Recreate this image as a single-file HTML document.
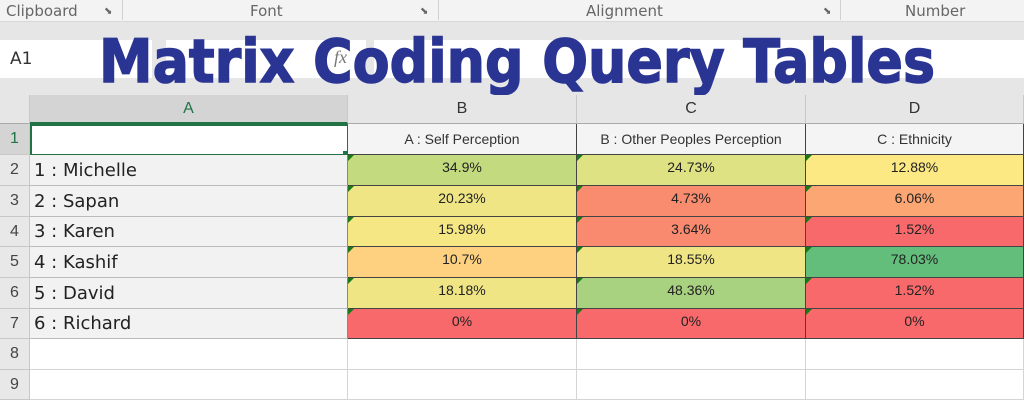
<!DOCTYPE html>
<html><head><meta charset="utf-8"><style>
*{margin:0;padding:0;box-sizing:border-box}
body{width:1024px;height:400px;overflow:hidden;background:#e6e6e6;font-family:"Liberation Sans",sans-serif;position:relative}
.a{position:absolute}
.rib{top:0;height:22px;background:#f3f3f3;width:1024px;border-bottom:1px solid #d8d8d8}
.rl{top:2px;font-size:15px;color:#666;font-family:"DejaVu Sans",sans-serif}
.cell{position:absolute;border-right:1px solid #444;border-bottom:1px solid #444;display:flex;justify-content:center;padding-top:4px;font-size:14px;color:#222}
.cell:before{content:"";position:absolute;left:0;top:0;border-top:6px solid #1a7a1a;border-right:6px solid transparent}
.rh{position:absolute;left:0;width:30px;background:#e8e8e8;border-bottom:1px solid #c8c8c8;border-right:1px solid #c8c8c8;font-size:16px;color:#444;display:flex;align-items:center;justify-content:center}
.nm{position:absolute;left:30px;width:318px;background:#f2f2f2;border-bottom:1px solid #bbb;border-right:1px solid #888;font-size:18px;color:#222;padding-left:4px;display:flex;align-items:center;font-family:"DejaVu Sans",sans-serif}
.hd{position:absolute;top:95px;height:29px;background:#e6e6e6;border-right:1px solid #c8c8c8;border-bottom:1px solid #aaa;font-size:16px;color:#333;display:flex;align-items:center;justify-content:center}
.h1{position:absolute;top:124px;height:31px;background:#f4f4f4;border-right:1px solid #444;border-bottom:1px solid #444;font-size:14px;color:#333;display:flex;align-items:center;justify-content:center}
.em{position:absolute;background:#fff;border-right:1px solid #d4d4d4;border-bottom:1px solid #d4d4d4}
</style></head><body>
<div class="a rib"></div>
<div class="a rl" style="left:6px">Clipboard</div>
<div class="a rl" style="left:104px;font-size:10px;top:6px">⬊</div>
<div class="a" style="left:122px;top:0;width:1px;height:20px;background:#d0d0d0"></div>
<div class="a rl" style="left:250px">Font</div>
<div class="a rl" style="left:420px;font-size:10px;top:6px">⬊</div>
<div class="a" style="left:438px;top:0;width:1px;height:20px;background:#d0d0d0"></div>
<div class="a rl" style="left:586px">Alignment</div>
<div class="a rl" style="left:823px;font-size:10px;top:6px">⬊</div>
<div class="a" style="left:840px;top:0;width:1px;height:20px;background:#d0d0d0"></div>
<div class="a rl" style="left:905px">Number</div>
<div class="a" style="left:0;top:40px;width:152px;height:38px;background:#fff"></div>
<div class="a" style="left:10px;top:49px;font-size:17px;color:#333;font-family:'DejaVu Sans',sans-serif">A1</div>
<div class="a" style="left:166px;top:40px;width:200px;height:38px;background:#fff"></div>
<div class="a" style="left:374px;top:40px;width:650px;height:38px;background:#fff"></div>
<div class="a" style="left:334px;top:47px;font-size:18px;color:#777;font-style:italic;font-family:'Liberation Serif',serif">fx</div>
<svg class="a" style="left:0;top:0" width="1024" height="100"><text x="99" y="82" textLength="836" lengthAdjust="spacingAndGlyphs" font-family="DejaVu Sans" font-weight="bold" font-size="60" fill="#2a3593" stroke="#2a3593" stroke-width="1.5">Matrix Coding Query Tables</text></svg>
<div class="a" style="left:0;top:95px;width:30px;height:29px;background:#e6e6e6;border-right:1px solid #c8c8c8;border-bottom:1px solid #aaa"></div>
<div class="hd" style="left:30px;width:318px;background:#d4d4d4;color:#217346;border-bottom:2px solid #217346">A</div>
<div class="hd" style="left:348px;width:229px">B</div>
<div class="hd" style="left:577px;width:229px">C</div>
<div class="hd" style="left:806px;width:218px">D</div>
<div class="rh" style="top:124px;height:31px;color:#217346;background:#d4d4d4">1</div>
<div class="a" style="left:30px;top:124px;width:319px;height:32px;background:#fff;border:2px solid #217346"></div>
<div class="a" style="left:343px;top:151px;width:7px;height:7px;background:#217346"></div>
<div class="h1" style="left:348px;width:229px">A : Self Perception</div>
<div class="h1" style="left:577px;width:229px">B : Other Peoples Perception</div>
<div class="h1" style="left:806px;width:218px">C : Ethnicity</div>

<div class="rh" style="top:155px;height:31px">2</div><div class="nm" style="top:155px;height:31px">1 : Michelle</div>
<div class="rh" style="top:186px;height:31px">3</div><div class="nm" style="top:186px;height:31px">2 : Sapan</div>
<div class="rh" style="top:217px;height:30px">4</div><div class="nm" style="top:217px;height:30px">3 : Karen</div>
<div class="rh" style="top:247px;height:31px">5</div><div class="nm" style="top:247px;height:31px">4 : Kashif</div>
<div class="rh" style="top:278px;height:31px">6</div><div class="nm" style="top:278px;height:31px">5 : David</div>
<div class="rh" style="top:309px;height:30px">7</div><div class="nm" style="top:309px;height:30px">6 : Richard</div>
<div class="rh" style="top:339px;height:31px">8</div>
<div class="rh" style="top:370px;height:30px">9</div>

<div class="cell" style="left:348px;top:155px;width:229px;height:31px;background:#c4da7e">34.9%</div>
<div class="cell" style="left:577px;top:155px;width:229px;height:31px;background:#dfe283">24.73%</div>
<div class="cell" style="left:806px;top:155px;width:218px;height:31px;background:#fde983">12.88%</div>
<div class="cell" style="left:348px;top:186px;width:229px;height:31px;background:#efe584">20.23%</div>
<div class="cell" style="left:577px;top:186px;width:229px;height:31px;background:#f98c6e">4.73%</div>
<div class="cell" style="left:806px;top:186px;width:218px;height:31px;background:#fba673">6.06%</div>
<div class="cell" style="left:348px;top:217px;width:229px;height:30px;background:#f5e784">15.98%</div>
<div class="cell" style="left:577px;top:217px;width:229px;height:30px;background:#f98a6f">3.64%</div>
<div class="cell" style="left:806px;top:217px;width:218px;height:30px;background:#f8696b">1.52%</div>
<div class="cell" style="left:348px;top:247px;width:229px;height:31px;background:#fdd17f">10.7%</div>
<div class="cell" style="left:577px;top:247px;width:229px;height:31px;background:#f0e584">18.55%</div>
<div class="cell" style="left:806px;top:247px;width:218px;height:31px;background:#63be7b">78.03%</div>
<div class="cell" style="left:348px;top:278px;width:229px;height:31px;background:#efe584">18.18%</div>
<div class="cell" style="left:577px;top:278px;width:229px;height:31px;background:#a8d27f">48.36%</div>
<div class="cell" style="left:806px;top:278px;width:218px;height:31px;background:#f8696b">1.52%</div>
<div class="cell" style="left:348px;top:309px;width:229px;height:30px;background:#f8696b">0%</div>
<div class="cell" style="left:577px;top:309px;width:229px;height:30px;background:#f8696b">0%</div>
<div class="cell" style="left:806px;top:309px;width:218px;height:30px;background:#f8696b">0%</div>

<div class="em" style="left:30px;top:339px;width:318px;height:31px"></div>
<div class="em" style="left:348px;top:339px;width:229px;height:31px"></div>
<div class="em" style="left:577px;top:339px;width:229px;height:31px"></div>
<div class="em" style="left:806px;top:339px;width:218px;height:31px"></div>
<div class="em" style="left:30px;top:370px;width:318px;height:30px"></div>
<div class="em" style="left:348px;top:370px;width:229px;height:30px"></div>
<div class="em" style="left:577px;top:370px;width:229px;height:30px"></div>
<div class="em" style="left:806px;top:370px;width:218px;height:30px"></div>
</body></html>
